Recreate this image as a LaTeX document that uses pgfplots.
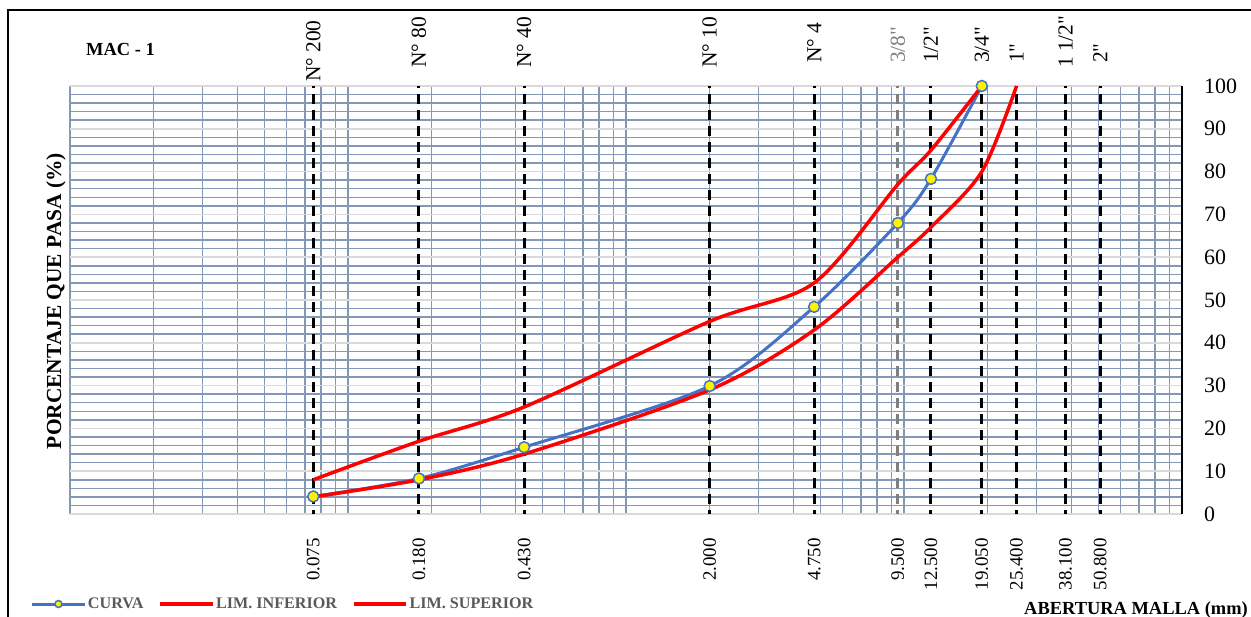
\documentclass[border=0pt]{standalone}
\usepackage{pgfplots}
\pgfplotsset{compat=1.18}
\usepackage{fontspec}
\setmainfont{Liberation Serif}[Ligatures=TeXOff]
\definecolor{gridblue}{RGB}{132,151,180}
\definecolor{gridgray}{RGB}{217,217,217}
\definecolor{curveblue}{RGB}{68,114,196}
\definecolor{legtext}{RGB}{89,89,89}
\definecolor{midgray}{RGB}{127,127,127}

\pgfplotstableread{
x y
0.075 4.1
0.18 8.3
0.43 15.6
2.0 29.9
4.75 48.4
9.5 68.0
12.5 78.3
19.05 100
}\curva
\pgfplotstableread{
x y
0.075 4
0.18 8
0.43 14
2.0 29
4.75 43
9.5 60
12.5 67
19.05 80
25.4 100
}\liminf
\pgfplotstableread{
x y
0.075 8
0.18 17
0.43 25
2.0 45
4.75 54
9.5 77
12.5 85
19.05 100
}\limsup

\begin{document}
\begin{tikzpicture}
\useasboundingbox (0,0) rectangle (1251bp,-617bp);
\draw[line width=2bp] (8bp,-617bp) -- (8bp,-10bp) -- (1251bp,-10bp);
\begin{axis}[
  name=ax,
  at={(70bp,-514bp)}, anchor=south west,
  width=1112bp, height=428bp, scale only axis,
  xmode=log, xmin=0.01, xmax=100, ymin=0, ymax=100,
  clip=false,
  axis line style={draw=none},
  xtick={0.075,0.18,0.43,2,4.75,9.5,12.5,19.05,25.4,38.1,50.8},
  xticklabels={0.075,0.180,0.430,2.000,4.750,9.500,12.500,19.050,25.400,38.100,50.800},
  minor xtick={0.01,0.02,0.03,0.04,0.05,0.06,0.07,0.08,0.09,0.1,0.2,0.3,0.4,0.5,0.6,0.7,0.8,0.9,1,2,3,4,5,6,7,8,9,10,20,30,40,50,60,70,80,90,100},
  ytick={0,10,...,100},
  minor ytick={2,4,6,8,12,14,16,18,22,24,26,28,32,34,36,38,42,44,46,48,52,54,56,58,62,64,66,68,72,74,76,78,82,84,86,88,92,94,96,98},
  xmajorgrids=false, xminorgrids=true,
  ymajorgrids=true, yminorgrids=true,
  minor grid style={gridblue, line width=1.5bp},
  major grid style={gridgray, line width=1.5bp},
  major tick length=0pt, minor tick length=0pt,
  yticklabel pos=right,
  /pgf/number format/assume math mode=true,
  yticklabel style={anchor=west, inner sep=0pt, xshift=22bp, font=\fontsize{22}{24}\selectfont},
  xticklabel style={rotate=90, anchor=east, inner sep=0pt, font=\fontsize{19}{22}\selectfont},
  xticklabel shift=24bp,
  legend style={at={(-0.0351,-0.2103)}, anchor=west, draw=none, fill=none,
    inner sep=0pt, outer sep=0pt,
    font=\bfseries\fontsize{16.2}{18}\selectfont, text=legtext,
    /tikz/every even column/.append style={column sep=13bp}},
  legend columns=3,
  legend cell align=left,
  legend image code/.code={\draw[mark repeat=2,mark phase=2,mark size=3.5bp] plot coordinates {(0bp,0bp) (26bp,0bp) (52bp,0bp)};},
]
% sieve lines
\addplot[forget plot, black, line width=3bp, dash pattern=on 10bp off 6bp, dash phase=-8bp] coordinates {(0.075,100) (0.075,0)};
\addplot[forget plot, black, line width=3bp, dash pattern=on 10bp off 6bp, dash phase=-8bp] coordinates {(0.18,100) (0.18,0)};
\addplot[forget plot, black, line width=3bp, dash pattern=on 10bp off 6bp, dash phase=-8bp] coordinates {(0.43,100) (0.43,0)};
\addplot[forget plot, black, line width=3bp, dash pattern=on 10bp off 6bp, dash phase=-8bp] coordinates {(2.0,100) (2.0,0)};
\addplot[forget plot, black, line width=3bp, dash pattern=on 10bp off 6bp, dash phase=-8bp] coordinates {(4.75,100) (4.75,0)};
\addplot[forget plot, midgray, line width=3bp, dash pattern=on 10bp off 6bp, dash phase=-8bp] coordinates {(9.5,100) (9.5,0)};
\addplot[forget plot, black, line width=3bp, dash pattern=on 10bp off 6bp, dash phase=-8bp] coordinates {(12.5,100) (12.5,0)};
\addplot[forget plot, black, line width=3bp, dash pattern=on 10bp off 6bp, dash phase=-8bp] coordinates {(19.05,100) (19.05,0)};
\addplot[forget plot, black, line width=3bp, dash pattern=on 10bp off 6bp, dash phase=-8bp] coordinates {(25.4,100) (25.4,0)};
\addplot[forget plot, black, line width=3bp, dash pattern=on 10bp off 6bp, dash phase=-8bp] coordinates {(38.1,100) (38.1,0)};
\addplot[forget plot, black, line width=3bp, dash pattern=on 10bp off 6bp, dash phase=-8bp] coordinates {(50.8,100) (50.8,0)};
% curves
\addplot[curveblue, line width=3bp, smooth, mark=*, mark size=5.5bp,
  mark options={solid, fill=yellow, draw=curveblue, line width=1.5bp}] table {\curva};
\addlegendentry{CURVA}
\addplot[red, line width=3.5bp, smooth] table {\liminf};
\addlegendentry{LIM. INFERIOR}
\addplot[red, line width=3.5bp, smooth] table {\limsup};
\addlegendentry{LIM. SUPERIOR}
\end{axis}
\begin{axis}[
  at={(70bp,-514bp)}, anchor=south west,
  width=1112bp, height=428bp, scale only axis,
  xmode=log, xmin=0.01, xmax=100, ymin=0, ymax=100,
  axis line style={draw=none}, ytick=\empty,
  xtick={0.075,0.18,0.43,2,4.75,9.5,12.5,19.05,25.4,38.1,50.8},
  xticklabels={N° 200,\hspace*{14bp}N° 80,\hspace*{14bp}N° 40,\hspace*{14bp}N° 10,\hspace*{19bp}N° 4,\hspace*{19bp}\textcolor{midgray}{3/8"},\hspace*{19bp}1/2",\hspace*{19bp}3/4",\hspace*{19bp}1",\hspace*{14bp}1 1/2",\hspace*{19bp}2"},
  xticklabel pos=upper,
  major tick length=0pt, minor tick length=0pt,
  xticklabel style={rotate=90, anchor=west, inner sep=0pt, font=\fontsize{21.5}{24}\selectfont},
  xticklabel shift=4bp,
]
\end{axis}
\draw[line width=1.5bp] (ax.south east) -- (ax.north east);
\node[anchor=base west, inner sep=0pt, font=\bfseries\fontsize{18.5}{20}\selectfont] at (86bp,-55bp) {MAC - 1};
\node[anchor=base east, inner sep=0pt, font=\bfseries\fontsize{18.5}{20}\selectfont] at (1248bp,-614bp) {ABERTURA MALLA (mm)};
\node[rotate=90, anchor=base, inner sep=0pt, font=\bfseries\fontsize{21.5}{24}\selectfont] at (61bp,-301bp) {PORCENTAJE QUE PASA (\%)};
\end{tikzpicture}
\end{document}
